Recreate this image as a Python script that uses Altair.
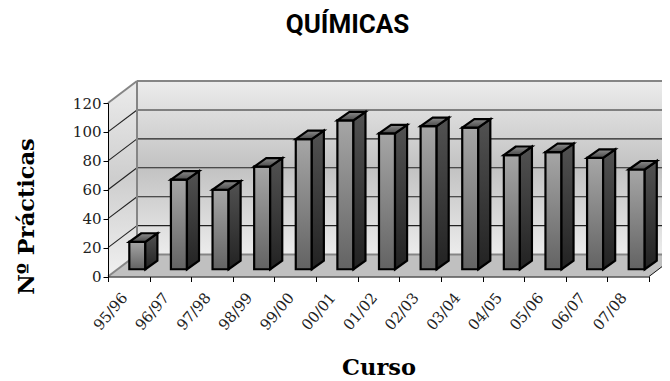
import json
import altair as alt
import pandas as pd

categories = ["95/96", "96/97", "97/98", "98/99", "99/00", "00/01", "01/02",
              "02/03", "03/04", "04/05", "05/06", "06/07", "07/08"]
values = [19, 62, 55, 71, 90, 103, 94, 99, 98, 79, 81, 77, 69]
grid_values = [20, 40, 60, 80, 100]
y_ticks = [0, 20, 40, 60, 80, 100, 120]

# perspective settings (in axis units)
N = len(categories)
YMAX = 120
WALL_DX, WALL_DY = 0.697, 15.2
BAR_L, BAR_R, BAR_BASE = 0.512, 0.897, 5.0
BAR_DX, BAR_DY = 0.29, 5.9


def grad(*stops):
    return {"gradient": "linear", "x1": 0, "y1": 0, "x2": 0, "y2": 1,
            "stops": [{"offset": o, "color": c} for o, c in stops]}


x_s = alt.Scale(domain=[0, N], nice=False, zero=False)
y_s = alt.Scale(domain=[0, YMAX], nice=False, zero=False)
label_expr = "(" + json.dumps(categories) + ")[datum.value] || ''"
x_axis = alt.Axis(
    values=list(range(N + 1)), labelExpr=label_expr, labelAngle=-50, labelAlign="right",
    labelBaseline="middle", labelOffset=16, labelPadding=13, labelOverlap=False,
    labelBound=False, labelFlush=False, labelFont="DejaVu Serif", labelFontSize=15,
    labelColor="#222222", tickColor="#000000", domainColor="#000000", tickSize=5,
    grid=False, zindex=1, title="Curso", titleFont="DejaVu Serif", titleFontWeight="bold",
    titleFontSize=22.5, titleColor="#000000", titleBaseline="alphabetic", titleY=97.5)
y_axis = alt.Axis(
    values=y_ticks, labelFont="DejaVu Serif", labelFontSize=15,
    labelColor="#222222", tickColor="#000000", domainColor="#000000", tickSize=5,
    grid=False, zindex=1, labelPadding=2, title="Nº Prácticas", titleFont="DejaVu Serif",
    titleFontWeight="bold", titleFontSize=22.5, titleColor="#000000", titleBaseline="alphabetic",
    titleX=-75, titleY=113)
X = alt.X("x:Q", scale=x_s, axis=x_axis)
Y = alt.Y("y:Q", scale=y_s, axis=y_axis)
X2 = alt.X2("x2:Q")
Y2 = alt.Y2("y2:Q")

WALL_GRAD = grad((0, "#ececec"), (0.5, "#c2c2c2"), (1, "#ececec"))
GRAY = "#858585"

# back wall
back = alt.Chart(pd.DataFrame([{"x": WALL_DX, "x2": N + WALL_DX, "y": YMAX + WALL_DY, "y2": WALL_DY}])).mark_rect(
    fill=WALL_GRAD).encode(x=X, x2=X2, y=Y, y2=Y2)
# left wall
left = alt.Chart(pd.DataFrame([
    {"x": 0, "y": YMAX, "y2": 0},
    {"x": WALL_DX, "y": YMAX + WALL_DY, "y2": WALL_DY}])).mark_area(
    fill=grad((0, "#ececec"), (0.5, "#cecece"), (1, "#f0f0f0"))).encode(x=X, y=Y, y2=Y2)
# floor
floor = alt.Chart(pd.DataFrame([
    {"y": 0, "x": 0, "x2": N},
    {"y": WALL_DY, "x": WALL_DX, "x2": N + WALL_DX}])).mark_area(
    orient="horizontal", fill="#c0c0c0").encode(x=X, x2=X2, y=Y)

# grid lines
rows = []
for v in grid_values:
    rows.append({"x": 0, "x2": WALL_DX, "y": v, "y2": v + WALL_DY})
    rows.append({"x": WALL_DX, "x2": N + WALL_DX, "y": v + WALL_DY, "y2": v + WALL_DY})
grid = alt.Chart(pd.DataFrame(rows)).mark_rule(color="#222222", strokeWidth=1.1).encode(x=X, x2=X2, y=Y, y2=Y2)

# wall edges
edges = pd.DataFrame([
    {"x": WALL_DX, "x2": WALL_DX, "y": WALL_DY, "y2": YMAX + WALL_DY},
    {"x": WALL_DX, "x2": N + WALL_DX, "y": YMAX + WALL_DY, "y2": YMAX + WALL_DY},
    {"x": WALL_DX, "x2": N + WALL_DX, "y": WALL_DY, "y2": WALL_DY},
    {"x": 0, "x2": WALL_DX, "y": 0, "y2": WALL_DY},
    {"x": 0, "x2": WALL_DX, "y": YMAX, "y2": YMAX + WALL_DY},
])
edge = alt.Chart(edges).mark_rule(color=GRAY, strokeWidth=2).encode(x=X, x2=X2, y=Y, y2=Y2)
floor_right = alt.Chart(pd.DataFrame([{"x": N, "x2": N + WALL_DX, "y": 0, "y2": WALL_DY}])).mark_rule(
    color="#111111", strokeWidth=1).encode(x=X, x2=X2, y=Y, y2=Y2)

# bars
front_rows, side_rows, top_rows = [], [], []
for i, v in enumerate(values):
    xl, xr = i + BAR_L, i + BAR_R
    top = BAR_BASE + v
    front_rows.append({"x": xl, "x2": xr, "y": top, "y2": BAR_BASE, "i": i})
    side_rows.append({"x": xr, "y": top, "y2": BAR_BASE, "i": i})
    side_rows.append({"x": xr + BAR_DX, "y": top + BAR_DY, "y2": BAR_BASE + BAR_DY, "i": i})
    top_rows.append({"y": top, "x": xl, "x2": xr, "i": i})
    top_rows.append({"y": top + BAR_DY, "x": xl + BAR_DX, "x2": xr + BAR_DX, "i": i})

STROKE = dict(stroke="#000000", strokeWidth=2.2, strokeJoin="miter")
front = alt.Chart(pd.DataFrame(front_rows)).mark_rect(
    fill=grad((0, "#a6a6a6"), (1, "#636363")), **STROKE).encode(x=X, x2=X2, y=Y, y2=Y2)
side = alt.Chart(pd.DataFrame(side_rows)).mark_area(
    fill=grad((0, "#525252"), (1, "#222222")), **STROKE).encode(x=X, y=Y, y2=Y2, detail="i:N")
top = alt.Chart(pd.DataFrame(top_rows)).mark_area(
    orient="horizontal", fill=grad((0, "#8c8c8c"), (1, "#4a4a4a")), **STROKE).encode(x=X, x2=X2, y=Y, detail="i:N")

chart = alt.layer(back, left, floor, grid, edge, floor_right, front, side, top).properties(
    width=541, height=173.5,
    padding={"left": 100, "top": 95, "right": 13, "bottom": 104},
    autosize=alt.AutoSizeParams(type="none"),
    background="white",
    title=alt.TitleParams("QUÍMICAS", font="Roboto", fontWeight="bold", fontSize=26,
                          color="#000000", anchor="middle", dx=-31, offset=42),
).configure_view(stroke=None)

chart.save("out.html", embed_options={"renderer": "svg", "actions": False})
